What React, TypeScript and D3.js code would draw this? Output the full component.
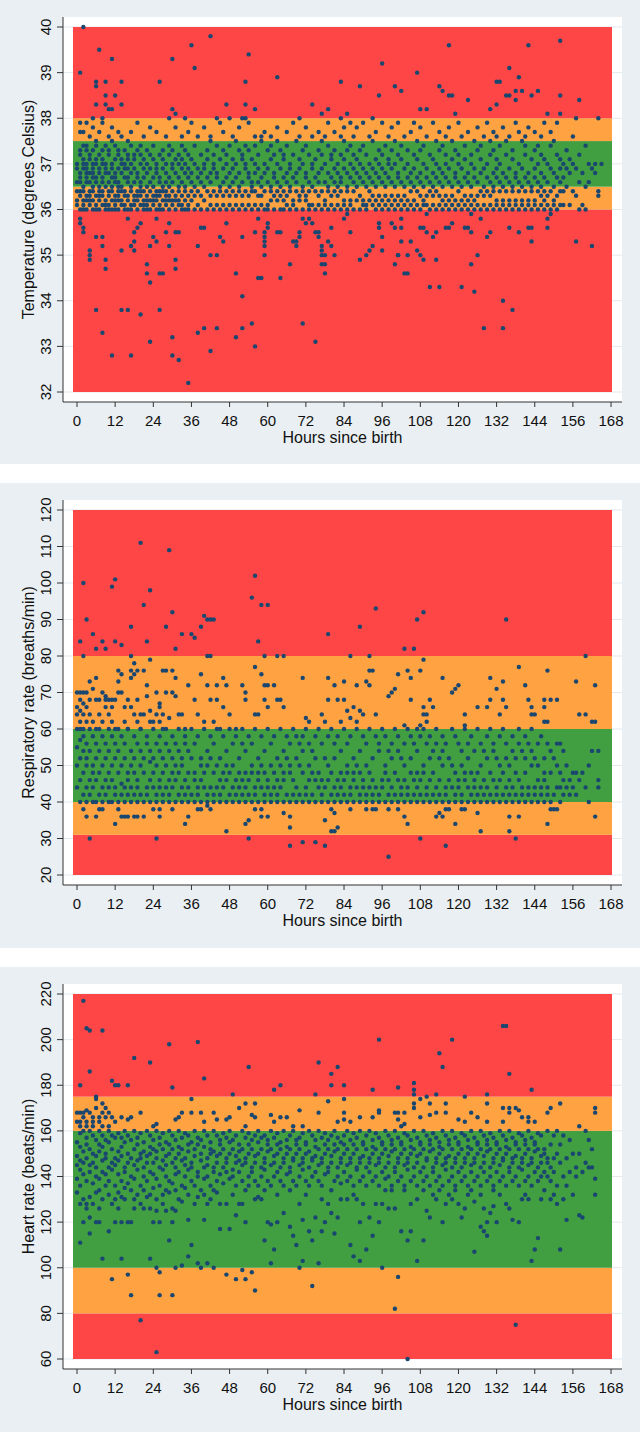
import React from "react";
import * as d3 from "d3";

// ---------------- data ----------------
const hourTicks = [0, 12, 24, 36, 48, 60, 72, 84, 96, 108, 120, 132, 144, 156, 168];
const hourExtent = [-1.26, 168.3];

const tempTicks = [32, 33, 34, 35, 36, 37, 38, 39, 40];
const tempBandBreaks = [32, 36, 36.5, 37.5, 38, 40];
const tempBandLevels = ["red", "orange", "green", "orange", "red"];

const rrTicks = [20, 30, 40, 50, 60, 70, 80, 90, 100, 110, 120];
const rrBandBreaks = [20, 31, 40, 60, 80, 120];
const rrBandLevels = ["red", "orange", "green", "orange", "red"];

const hrTicks = [60, 80, 100, 120, 140, 160, 180, 200, 220];
const hrBandBreaks = [60, 80, 100, 160, 175, 220];
const hrBandLevels = ["red", "orange", "green", "orange", "red"];

// readings per hour since birth (index = hour)
const tempReadings: number[][] = [
  [36.4, 36.1, 36.6, 36.9, 37.0, 36.2],
  [39.0, 35.8, 35.7, 36.0, 36.3, 36.4, 36.7, 36.8, 37.2, 37.3, 37.7, 37.9, 36.6],
  [40.0, 35.6, 35.5, 36.1, 36.2, 36.4, 36.5, 36.9, 37.1, 37.4, 37.0, 37.7, 36.0],
  [36.0, 36.3, 36.6, 36.7, 36.8, 37.0, 37.3, 37.4, 37.9, 36.2, 36.9],
  [35.1, 35.0, 34.9, 36.1, 36.2, 36.3, 36.6, 36.8, 37.1, 37.2, 37.6, 36.4],
  [36.0, 36.4, 36.5, 36.7, 36.9, 37.0, 37.3, 37.8, 38.0, 36.2, 36.8],
  [38.8, 38.7, 38.3, 35.4, 33.8, 36.1, 36.3, 36.6, 36.7, 37.0, 37.1, 37.4, 37.5, 36.0],
  [39.5, 36.0, 36.2, 36.4, 36.5, 36.8, 36.9, 37.2, 37.7, 36.3],
  [35.4, 35.2, 33.3, 36.1, 36.3, 36.6, 36.7, 37.0, 37.1, 37.3, 37.9, 36.4, 38.0],
  [38.8, 38.5, 38.3, 34.9, 34.7, 36.0, 36.2, 36.5, 36.9, 37.0, 37.4, 36.8, 36.1],
  [38.2, 36.1, 36.3, 36.4, 36.6, 36.8, 37.2, 37.3, 37.6, 36.0],
  [39.3, 38.2, 32.8, 36.0, 36.2, 36.5, 36.7, 36.9, 37.0, 37.5, 37.8, 36.4],
  // 12
  [38.5, 36.1, 36.3, 36.6, 36.7, 36.8, 37.1, 37.4, 36.0, 36.2],
  [36.0, 36.4, 36.5, 36.6, 36.9, 37.2, 37.3, 37.7, 36.2, 36.3],
  [38.8, 38.3, 33.8, 35.1, 36.1, 36.2, 36.5, 36.8, 37.0, 37.1, 37.6, 36.4],
  [36.0, 36.3, 36.4, 36.7, 36.9, 37.0, 37.3, 36.1],
  [33.8, 35.8, 36.2, 36.3, 36.6, 36.7, 37.1, 37.2, 37.5, 36.0, 36.9],
  [35.2, 32.8, 36.0, 36.1, 36.4, 36.5, 36.8, 37.0, 37.4, 37.7],
  [35.3, 35.1, 35.5, 36.1, 36.3, 36.6, 36.9, 37.1, 37.2, 36.2],
  [35.6, 36.0, 36.2, 36.4, 36.7, 36.8, 37.3, 37.9, 36.3],
  [35.7, 33.7, 36.1, 36.3, 36.5, 36.6, 37.0, 37.2, 37.4, 36.4],
  [36.0, 36.2, 36.4, 36.7, 36.9, 37.1, 37.6, 36.1],
  [34.8, 34.6, 36.1, 36.3, 36.5, 36.8, 37.0, 37.3, 36.0, 36.2],
  [34.4, 33.1, 35.2, 36.0, 36.2, 36.4, 36.6, 36.9, 37.2, 37.8],
  // 24
  [35.4, 36.1, 36.3, 36.5, 36.7, 37.1, 37.4, 36.2],
  [35.3, 35.8, 36.0, 36.2, 36.4, 36.8, 36.9, 37.0, 37.7, 36.3],
  [38.8, 33.8, 34.6, 36.1, 36.3, 36.6, 36.7, 37.2, 36.0, 36.4],
  [34.6, 36.0, 36.2, 36.5, 36.9, 37.1, 37.3, 36.4],
  [35.5, 36.1, 36.3, 36.4, 36.6, 36.8, 37.0, 37.6, 36.2],
  [38.0, 35.7, 35.2, 36.0, 36.2, 36.5, 36.7, 37.2, 37.4, 36.3],
  [39.3, 38.2, 33.2, 32.8, 36.1, 36.4, 36.6, 36.9, 37.0, 37.3, 36.2],
  [38.1, 35.5, 34.7, 34.9, 36.0, 36.2, 36.3, 36.8, 37.1, 37.8],
  [32.7, 35.5, 36.1, 36.4, 36.5, 36.7, 37.0, 37.2, 36.2],
  [36.0, 36.3, 36.6, 36.9, 37.1, 37.4, 37.6, 36.1],
  [36.2, 36.4, 36.5, 36.8, 37.0, 37.3, 36.0, 38.0],
  [32.2, 36.0, 36.1, 36.3, 36.7, 36.9, 37.2, 37.7],
  // 36
  [39.6, 36.2, 36.4, 36.6, 36.8, 37.1, 37.9],
  [39.1, 36.0, 36.3, 36.5, 37.0, 37.4],
  [33.3, 35.2, 36.1, 36.4, 36.7, 36.9, 37.6],
  [35.6, 36.0, 36.3, 36.6, 36.8, 37.2],
  [33.4, 35.6, 36.2, 36.5, 36.9, 37.0, 37.8],
  [36.0, 36.4, 36.7, 37.1, 37.3],
  [39.8, 32.9, 35.0, 36.1, 36.3, 36.6, 36.8, 37.5, 37.6],
  [36.0, 36.4, 36.9, 37.0, 37.2],
  [33.4, 35.0, 36.1, 36.3, 36.7, 36.8, 37.4, 38.0],
  [35.4, 36.0, 36.5, 37.1, 37.9, 36.4],
  [35.3, 36.1, 36.3, 36.6, 36.9, 37.3, 37.7],
  [38.3, 35.7, 36.0, 36.4, 36.7, 37.0, 37.2],
  // 48
  [36.1, 36.5, 36.8, 37.4, 38.0, 36.3],
  [36.0, 36.4, 36.6, 36.9, 37.1, 37.6],
  [33.2, 34.6, 36.1, 36.3, 36.7, 37.0, 37.5],
  [36.0, 36.5, 36.8, 37.3, 37.8, 36.4],
  [34.1, 33.4, 35.4, 36.1, 36.3, 36.6, 37.1, 37.2, 38.0],
  [38.8, 38.3, 36.0, 36.4, 36.9, 37.0, 37.4, 38.0],
  [39.4, 36.1, 36.3, 36.7, 36.8, 37.3, 37.9],
  [33.5, 36.0, 36.5, 36.6, 37.1, 36.4],
  [38.2, 33.0, 35.5, 36.1, 36.4, 36.8, 37.0, 37.4, 37.6],
  [35.8, 34.5, 36.0, 36.6, 36.9, 37.2, 36.3],
  [34.5, 36.1, 36.3, 36.5, 36.7, 37.5, 37.6],
  [35.5, 35.4, 35.3, 35.2, 35.0, 36.0, 36.8, 37.0, 37.7, 36.4],
  // 60
  [35.7, 35.6, 36.1, 36.6, 36.9, 37.3, 36.0],
  [36.2, 36.4, 36.5, 37.1, 37.4, 37.6],
  [36.0, 36.7, 36.8, 37.2, 36.3],
  [38.9, 35.5, 36.2, 36.4, 36.6, 37.0, 37.5, 37.8],
  [35.5, 34.5, 36.0, 36.3, 36.9, 37.3, 36.5],
  [36.2, 36.4, 36.7, 37.1, 37.2, 36.0],
  [36.1, 36.3, 36.6, 36.8, 37.4, 37.7],
  [34.8, 36.0, 36.5, 36.9, 37.0, 36.4],
  [35.3, 36.1, 36.7, 37.2, 37.9, 36.2],
  [35.3, 35.2, 36.0, 36.4, 36.6, 36.8, 37.5],
  [35.4, 35.5, 36.2, 36.3, 36.9, 37.1, 37.6, 38.0],
  [33.5, 35.8, 36.0, 36.5, 37.0, 37.3, 36.4],
  // 72
  [35.7, 36.2, 36.3, 36.7, 36.8, 37.4, 37.8],
  [35.8, 36.0, 36.4, 36.6, 37.2, 36.1],
  [38.3, 35.7, 36.1, 36.5, 36.9, 37.0, 37.6],
  [35.5, 33.1, 36.0, 36.7, 37.1, 36.4],
  [35.5, 35.4, 36.1, 36.3, 36.6, 36.8, 37.3, 37.7],
  [38.1, 35.2, 35.1, 35.0, 34.8, 36.0, 36.4, 36.9, 37.2, 37.5],
  [34.6, 35.0, 34.8, 36.2, 36.6, 37.0, 37.6, 36.1],
  [38.2, 35.3, 36.0, 36.4, 36.5, 36.8, 37.4, 37.9],
  [35.6, 35.2, 36.1, 36.7, 37.1, 37.2, 36.3],
  [35.0, 36.0, 36.4, 36.6, 36.9, 37.3, 37.7],
  [36.1, 36.5, 36.8, 37.0, 36.3],
  [38.8, 36.0, 36.4, 36.6, 36.7, 37.2, 37.6, 38.0],
  // 84
  [35.8, 36.1, 36.9, 37.1, 37.5, 37.8, 36.2],
  [38.1, 35.9, 36.0, 36.4, 36.5, 36.8, 37.3],
  [35.5, 36.1, 36.2, 36.7, 37.0, 37.4, 37.9],
  [36.0, 36.6, 36.9, 37.2, 37.6, 36.4],
  [36.2, 36.5, 36.8, 37.1, 37.8],
  [38.7, 34.9, 36.0, 36.3, 36.7, 37.0, 37.3],
  [36.1, 36.6, 36.9, 37.4, 37.9, 36.2],
  [35.0, 36.0, 36.5, 36.8, 37.2, 36.1],
  [35.1, 36.2, 36.4, 36.7, 37.0, 37.6],
  [35.2, 36.1, 36.3, 36.6, 36.9, 37.5, 38.0],
  [36.0, 36.5, 36.8, 37.1, 37.7, 36.2],
  [38.5, 35.7, 35.6, 36.1, 36.3, 36.7, 37.0, 37.3],
  // 96
  [39.2, 35.1, 35.4, 36.0, 36.2, 36.6, 36.9, 37.2, 37.9],
  [36.1, 36.5, 36.8, 37.4, 36.3],
  [36.0, 36.2, 36.7, 37.0, 37.1, 37.6],
  [35.7, 36.1, 36.3, 36.6, 36.9, 37.3, 37.8],
  [38.7, 35.6, 34.8, 36.0, 36.5, 37.0, 37.5, 36.2],
  [35.0, 35.0, 36.1, 36.3, 36.7, 36.8, 37.2, 37.9],
  [38.6, 35.3, 35.8, 35.6, 36.0, 36.2, 36.6, 37.1, 37.4],
  [34.6, 36.1, 36.5, 36.9, 37.6, 36.3],
  [34.6, 35.0, 36.0, 36.2, 36.7, 37.0, 37.3],
  [35.3, 36.1, 36.6, 36.8, 37.7, 36.4],
  [36.0, 36.2, 36.5, 36.9, 37.2, 37.9],
  [39.0, 35.1, 36.1, 36.4, 36.7, 37.1, 37.5],
  // 108
  [38.2, 35.0, 35.6, 36.0, 36.3, 36.6, 36.8, 37.3, 37.8],
  [34.9, 35.6, 36.2, 36.5, 37.0, 37.4, 36.1],
  [38.2, 35.9, 35.5, 36.1, 36.3, 36.7, 36.9, 37.6],
  [34.3, 36.0, 36.6, 37.2, 36.4],
  [35.4, 36.1, 36.3, 36.5, 36.8, 37.1, 37.9],
  [35.5, 34.9, 36.0, 36.7, 37.0, 37.5, 36.4],
  [38.7, 34.3, 36.1, 36.3, 36.6, 36.9, 37.3, 37.7],
  [38.6, 36.0, 36.5, 36.8, 37.4, 36.2],
  [35.6, 36.1, 36.3, 36.7, 37.0, 37.2, 37.6],
  [39.6, 38.5, 35.6, 36.0, 36.2, 36.6, 36.9, 37.8],
  [38.5, 35.7, 36.1, 36.5, 37.1, 37.5, 36.3],
  [38.1, 36.0, 36.2, 36.7, 36.8, 37.3],
  // 120
  [36.1, 36.6, 37.0, 37.2, 37.9, 36.4],
  [34.3, 36.0, 36.2, 36.5, 36.9, 37.6],
  [35.6, 36.1, 36.7, 37.1, 37.4, 36.3],
  [38.4, 35.6, 36.0, 36.2, 36.6, 36.8, 37.7],
  [35.5, 35.9, 34.8, 36.1, 36.3, 36.5, 37.0, 37.2],
  [34.2, 36.0, 36.7, 36.9, 37.5, 36.2],
  [35.0, 36.1, 36.3, 36.6, 37.3, 37.8],
  [35.8, 36.0, 36.8, 37.1, 37.4, 36.4],
  [33.4, 36.1, 36.3, 36.5, 36.9, 37.6],
  [35.4, 36.0, 36.7, 37.0, 37.9, 36.4],
  [38.2, 35.5, 36.1, 36.3, 36.6, 37.2, 37.5],
  [36.0, 36.4, 36.5, 36.8, 37.3, 37.7],
  // 132
  [38.3, 38.8, 36.1, 36.2, 36.7, 36.9, 37.1, 37.6],
  [38.8, 36.0, 36.6, 37.0, 37.4, 36.4],
  [34.0, 33.4, 36.1, 36.2, 36.5, 36.8, 37.8],
  [38.5, 36.0, 36.7, 37.2, 37.5, 36.4],
  [39.1, 38.5, 35.6, 36.1, 36.2, 36.6, 36.9, 37.6],
  [33.8, 36.0, 36.4, 36.5, 37.1, 37.3],
  [38.6, 38.4, 36.1, 36.7, 36.8, 37.9, 36.2],
  [38.9, 35.5, 36.0, 36.4, 36.6, 37.0, 37.7],
  [38.6, 36.2, 36.5, 36.9, 37.5, 36.1],
  [36.0, 36.4, 36.7, 37.2, 37.4, 37.6],
  [39.6, 35.6, 36.1, 36.2, 36.6, 36.8, 37.8],
  [38.5, 35.6, 35.3, 36.0, 36.5, 37.1, 36.4],
  // 144
  [36.2, 36.1, 36.7, 36.9, 37.3, 37.7],
  [38.6, 36.0, 36.4, 36.6, 37.0, 37.4],
  [36.1, 36.3, 36.5, 36.8, 37.2, 37.6],
  [36.0, 36.2, 36.7, 37.1, 37.9, 36.4],
  [38.1, 35.8, 35.6, 36.1, 36.3, 36.6, 37.0],
  [35.9, 36.0, 36.4, 36.9, 37.4, 37.7],
  [36.2, 36.5, 36.8, 37.5, 36.1],
  [36.0, 36.3, 36.7, 37.2, 37.9],
  [39.7, 38.5, 38.1, 36.1, 36.4, 36.6, 36.9, 37.1],
  [36.1, 36.4, 36.7, 37.0],
  [36.5, 36.9, 37.3],
  [36.1, 36.8, 37.1],
  // 156
  [36.4, 37.0, 37.6],
  [38.0, 35.3, 36.3, 36.9],
  [38.4, 36.0, 36.6, 37.2],
  [36.1, 36.8],
  [36.0, 36.5, 37.4],
  [37.0, 36.6],
  [35.2, 36.9],
  [37.0, 36.8],
  [38.0, 36.4, 36.3],
  [37.0],
];

const rrReadings: number[][] = [
  [60, 55, 50, 44, 66, 70, 64],
  [84, 60, 57, 52, 46, 40, 68, 70, 62, 65],
  [100, 80, 38, 58, 54, 48, 42, 70, 67, 64, 60],
  [90, 36, 56, 52, 50, 44, 40, 70, 66, 62],
  [30, 60, 54, 46, 42, 73, 68, 64],
  [86, 58, 50, 48, 44, 40, 71, 62],
  [82, 36, 56, 52, 46, 40, 74, 68, 60],
  [38, 60, 54, 48, 42, 68, 64],
  [84, 38, 58, 50, 44, 40, 70, 62],
  [82, 56, 52, 46, 42, 69, 66, 68],
  [60, 54, 48, 44, 40, 68, 64],
  [99, 58, 50, 46, 40, 66, 62, 68],
  // 12
  [101, 84, 34, 56, 52, 44, 42, 68, 60],
  [38, 60, 54, 48, 40, 73, 76, 70],
  [83, 36, 58, 50, 45, 42, 75, 70],
  [36, 56, 52, 44, 40, 66, 62],
  [36, 60, 48, 46, 42, 68, 60],
  [88, 54, 50, 44, 40, 80, 76, 66, 74],
  [36, 58, 52, 48, 42, 78, 75, 64],
  [36, 56, 46, 44, 40, 76, 68, 62],
  [111, 60, 54, 50, 42, 64, 60],
  [94, 36, 52, 48, 40, 76, 64],
  [84, 58, 56, 44, 42, 72, 69],
  [98, 54, 51, 46, 40, 79, 65, 62],
  // 24
  [38, 60, 52, 48, 44, 62],
  [30, 56, 50, 42, 40, 70, 64],
  [38, 36, 58, 54, 46, 44, 67, 66, 62],
  [52, 48, 42, 40, 76, 64, 60],
  [88, 60, 56, 50, 44, 70, 76],
  [109, 54, 46, 42, 40, 63],
  [92, 38, 58, 52, 48, 44, 70, 76],
  [82, 56, 50, 46, 40, 74, 69],
  [60, 54, 48, 42, 64],
  [86, 52, 50, 44, 40, 64],
  [34, 58, 56, 46, 42, 60],
  [36, 54, 48, 44, 40, 72],
  // 36
  [86, 60, 52, 42],
  [85, 56, 48, 46, 40, 68],
  [38, 58, 44, 42, 64],
  [88, 38, 52, 50, 46, 40, 75],
  [91, 60, 48, 44, 62],
  [90, 80, 39, 54, 50, 42, 40, 72],
  [90, 80, 38, 58, 52, 44, 68],
  [90, 56, 48, 42, 40, 62],
  [60, 50, 44, 72, 68],
  [52, 46, 42, 40, 60],
  [58, 48, 44, 66, 74],
  [32, 54, 50, 46, 40, 72],
  // 48
  [60, 48, 42, 64],
  [56, 50, 44, 40],
  [58, 46, 42, 60],
  [52, 48, 44, 40],
  [60, 56, 46, 42, 72],
  [34, 54, 48, 44, 40, 70, 68],
  [35, 30, 58, 46, 42],
  [96, 56, 50, 48, 40],
  [102, 77, 38, 60, 44, 42, 64],
  [84, 52, 48, 46, 40, 64],
  [94, 36, 38, 58, 50, 44, 75],
  [80, 54, 48, 42, 40, 72, 68],
  // 60
  [94, 36, 60, 46, 44, 72, 66],
  [56, 50, 42, 40],
  [58, 48, 44, 72],
  [80, 52, 46, 42, 40, 68],
  [60, 50, 44, 68],
  [80, 37, 54, 48, 46, 40, 66],
  [58, 52, 42],
  [36, 33, 28, 56, 50, 48, 40],
  [60, 46, 42],
  [52, 44, 40, 58],
  [56, 50, 42],
  [29, 58, 54, 48, 40, 74],
  // 72
  [60, 44, 42, 63],
  [56, 50, 46, 40, 62],
  [54, 48, 42],
  [29, 58, 52, 46, 40],
  [60, 48, 44],
  [56, 46, 42, 40, 64],
  [28, 35, 52, 44, 62],
  [86, 58, 50, 46, 40, 74, 68],
  [32, 38, 60, 48, 42],
  [32, 37, 56, 52, 44, 40, 72],
  [33, 58, 46, 42, 68],
  [54, 48, 44, 40, 62],
  // 84
  [60, 46, 42, 73, 68],
  [56, 50, 48, 40, 65],
  [80, 38, 58, 44, 42, 63],
  [52, 48, 46, 40, 66],
  [60, 50, 44, 62, 72],
  [88, 54, 48, 42, 40, 65],
  [58, 46, 44, 64],
  [38, 56, 50, 42, 40, 73],
  [80, 60, 48, 44, 72, 76],
  [38, 52, 46, 42, 40, 76],
  [93, 38, 58, 44, 64],
  [56, 54, 42, 40],
  // 96
  [60, 46, 44],
  [58, 50, 48, 40],
  [25, 38, 54, 46, 42, 69],
  [56, 52, 44, 40, 70],
  [60, 48, 42, 71],
  [38, 58, 54, 46, 40, 75],
  [52, 44, 42],
  [82, 36, 56, 50, 46, 40, 61],
  [34, 60, 44, 42, 76],
  [58, 52, 48, 40, 74, 68],
  [82, 56, 46, 42],
  [90, 54, 48, 44, 40, 60],
  // 108
  [30, 58, 46, 42, 76, 61],
  [92, 79, 60, 50, 48, 40, 64, 66],
  [56, 44, 42, 62, 64],
  [58, 52, 46, 40, 68],
  [54, 48, 42, 66],
  [36, 60, 56, 44, 40],
  [37, 52, 46, 42],
  [36, 58, 54, 50, 40, 74],
  [38, 28, 56, 44, 42],
  [38, 52, 46, 40],
  [60, 50, 44, 70],
  [34, 58, 48, 42, 40, 71],
  // 120
  [56, 46, 44, 72],
  [38, 54, 50, 42, 40],
  [38, 60, 48, 46, 64, 61],
  [56, 52, 44, 40],
  [58, 48, 42],
  [54, 46, 44, 40],
  [37, 60, 48, 42, 66],
  [32, 56, 50, 44, 40],
  [54, 46, 42],
  [58, 52, 44, 40, 66],
  [60, 48, 42, 74, 68],
  [56, 54, 46, 40],
  // 132
  [52, 44, 42, 71],
  [58, 50, 46, 40, 64],
  [60, 48, 42, 73, 68],
  [90, 56, 52, 44, 40, 66],
  [36, 32, 50, 46, 42],
  [58, 54, 44, 40],
  [30, 52, 48, 42],
  [77, 36, 60, 56, 46, 40],
  [54, 44, 42],
  [58, 52, 48, 40, 72],
  [56, 44, 42, 68],
  [60, 54, 50, 40, 66, 64],
  // 144
  [52, 44, 42, 64],
  [56, 50, 46, 40],
  [58, 44, 42],
  [52, 48, 46, 40, 68, 66, 62],
  [34, 56, 44, 42, 76, 62],
  [38, 54, 48, 40, 68],
  [38, 52, 42],
  [38, 56, 50, 44, 68],
  [56, 48, 44, 40],
  [54, 46, 42],
  [50, 44],
  [46, 42],
  // 156
  [48, 44],
  [73, 48, 42],
  [64, 46],
  [48],
  [80, 64, 44],
  [50, 40],
  [62, 54],
  [72, 62, 36],
  [54, 46, 44],
];

const hrReadings: number[][] = [
  [155, 149, 145, 139, 133, 168, 164],
  [111, 180, 159, 153, 147, 143, 136, 128, 168, 162, 164],
  [217, 120, 160, 151, 146, 141, 130, 168, 166],
  [205, 128, 157, 154, 148, 138, 126, 169, 164, 162],
  [204, 186, 115, 160, 152, 145, 142, 131, 122, 168],
  [128, 158, 150, 146, 137, 164, 166, 162],
  [120, 156, 149, 144, 140, 133, 175, 174, 170],
  [120, 160, 154, 151, 139, 134, 126, 166, 164],
  [204, 104, 158, 153, 147, 142, 130, 172, 168, 162],
  [156, 150, 148, 141, 136, 170, 166],
  [116, 160, 155, 144, 138, 132, 168, 162],
  [182, 95, 158, 152, 146, 143, 128, 166],
  // 12
  [180, 120, 157, 148, 145, 136, 130, 164],
  [180, 126, 159, 151, 147, 141, 133],
  [104, 120, 157, 153, 149, 138, 131, 166],
  [130, 160, 155, 144, 142, 135],
  [180, 97, 120, 158, 150, 146, 137, 165],
  [88, 120, 156, 148, 140, 134, 166],
  [192, 126, 160, 152, 145, 139, 130],
  [157, 154, 147, 143, 132],
  [77, 159, 150, 148, 136, 128, 168],
  [155, 151, 144, 140, 134, 126],
  [160, 149, 146, 138, 131],
  [190, 104, 126, 158, 153, 150, 142, 132],
  // 24
  [120, 156, 152, 146, 141, 135, 162],
  [63, 100, 125, 160, 151, 148, 139, 130, 163],
  [98, 88, 157, 154, 144, 136, 120],
  [132, 159, 152, 147, 143, 128],
  [125, 155, 149, 145, 140, 134],
  [198, 112, 160, 154, 150, 138, 133],
  [179, 88, 120, 158, 152, 146, 137, 126],
  [100, 125, 156, 148, 144, 141, 134, 165],
  [160, 153, 150, 142, 130, 166],
  [101, 157, 152, 147, 136, 129, 168],
  [159, 148, 145, 140, 135],
  [105, 121, 158, 154, 151, 143, 132],
  // 36
  [110, 155, 146, 144, 138, 174, 168],
  [128, 160, 152, 149, 136],
  [199, 102, 157, 154, 142, 140, 131],
  [100, 156, 150, 147, 134, 168],
  [183, 121, 160, 153, 144, 139, 132, 164],
  [102, 158, 148, 145, 140, 128],
  [155, 152, 150, 136, 130],
  [100, 160, 151, 144, 142, 134, 168],
  [158, 149, 146, 138, 133, 165],
  [117, 156, 154, 150, 141, 128],
  [159, 152, 144, 137],
  [97, 128, 157, 148, 146, 142, 165],
  // 48
  [117, 160, 155, 150, 139, 166],
  [176, 156, 152, 143, 140, 132],
  [95, 123, 158, 149, 146, 136],
  [170, 154, 151, 147, 142, 128],
  [99, 128, 160, 152, 145, 138],
  [95, 120, 172, 162, 157, 148, 146, 134],
  [188, 159, 154, 150, 140, 136],
  [98, 156, 152, 144, 142, 167],
  [90, 130, 158, 149, 146, 138, 172, 166],
  [160, 155, 150, 136, 131],
  [130, 157, 152, 144, 140],
  [112, 158, 148, 146, 143, 134],
  // 60
  [120, 156, 154, 151, 138],
  [102, 119, 160, 152, 145, 136, 167],
  [178, 108, 157, 149, 146, 140, 164],
  [120, 159, 154, 150, 142, 132],
  [180, 155, 152, 144, 138, 166],
  [124, 160, 148, 146, 136],
  [156, 153, 150, 141, 166],
  [118, 158, 152, 144, 142, 134],
  [114, 160, 148, 147, 138, 162],
  [110, 156, 154, 150, 136],
  [100, 128, 157, 152, 145, 140, 169],
  [103, 121, 159, 148, 146, 143, 162],
  // 72
  [155, 154, 150, 138, 132],
  [116, 160, 151, 144, 136],
  [112, 92, 158, 148, 147, 140],
  [122, 156, 153, 149, 142, 176],
  [190, 102, 160, 152, 145, 138, 168],
  [116, 157, 148, 146, 136, 130],
  [120, 159, 154, 150, 141],
  [173, 128, 156, 152, 144, 142],
  [185, 180, 124, 158, 149, 146, 134],
  [115, 160, 154, 151, 138],
  [188, 122, 157, 152, 144, 140, 164],
  [155, 148, 146, 137, 130],
  // 84
  [180, 158, 154, 150, 142, 168, 174, 165],
  [130, 160, 152, 145, 138],
  [110, 156, 148, 146, 140, 164],
  [105, 159, 154, 150, 136, 132],
  [130, 157, 152, 144, 143],
  [103, 120, 160, 148, 146, 138, 166],
  [155, 154, 149, 140, 128],
  [108, 158, 152, 144, 136],
  [122, 160, 148, 146, 142],
  [178, 114, 156, 153, 150, 138, 166],
  [128, 159, 152, 145, 140],
  [200, 120, 157, 148, 146, 136, 169, 168],
  // 96
  [100, 128, 155, 154, 150, 142],
  [160, 152, 144, 139, 134],
  [126, 158, 149, 146, 140],
  [134, 156, 154, 151, 136],
  [82, 126, 160, 152, 144, 142, 168],
  [179, 96, 157, 148, 146, 138, 168, 165],
  [116, 155, 154, 150, 140, 162],
  [159, 152, 145, 136, 134, 163, 168],
  [60, 112, 158, 148, 146, 143],
  [116, 128, 156, 153, 150, 138],
  [181, 178, 160, 152, 144, 140, 176, 172, 170],
  [103, 157, 149, 146, 136, 130],
  // 108
  [174, 155, 154, 150, 142, 166],
  [112, 160, 152, 144, 138, 134],
  [175, 125, 158, 148, 147, 140],
  [122, 156, 154, 151, 136, 167, 172],
  [159, 152, 144, 142, 132],
  [176, 130, 157, 148, 146, 138, 168],
  [194, 155, 153, 150, 140, 134],
  [188, 120, 160, 152, 145, 136],
  [128, 158, 148, 146, 143, 172, 168],
  [156, 154, 149, 138, 132],
  [200, 130, 160, 152, 144, 140],
  [157, 148, 146, 136, 134],
  // 120
  [128, 155, 154, 150, 142, 165],
  [122, 159, 152, 144, 138],
  [175, 126, 158, 148, 146, 140, 164],
  [156, 153, 150, 136, 132],
  [160, 152, 145, 142, 134, 168],
  [107, 129, 157, 148, 146, 138],
  [155, 154, 150, 140, 166],
  [118, 160, 152, 144, 136, 132],
  [116, 126, 158, 149, 146, 142],
  [176, 114, 120, 156, 154, 151, 138, 172, 164],
  [124, 159, 152, 144, 140],
  [127, 157, 148, 146, 136, 134],
  // 132
  [120, 155, 154, 150, 142],
  [160, 152, 145, 138, 132],
  [206, 158, 148, 147, 140, 170, 164],
  [206, 156, 153, 150, 136, 128],
  [185, 126, 160, 152, 144, 142, 168, 170],
  [121, 157, 148, 146, 138],
  [75, 155, 154, 149, 140, 170],
  [120, 159, 152, 144, 136, 169],
  [130, 158, 148, 146, 143, 166],
  [156, 154, 150, 138, 132],
  [130, 160, 152, 145, 140, 164, 166],
  [178, 103, 157, 148, 146, 136],
  // 144
  [108, 155, 154, 151, 142, 164],
  [113, 159, 152, 144, 138],
  [130, 158, 149, 146, 140],
  [152, 150, 142, 134],
  [160, 148, 146, 140, 168],
  [154, 144, 138, 130, 170],
  [158, 148, 142, 132],
  [160, 150, 136, 128],
  [108, 154, 146, 172],
  [158, 140, 130],
  [121, 148, 136],
  [156, 142],
  // 156
  [150, 132],
  [140, 144],
  [123, 162, 150],
  [122, 142],
  [160, 146],
  [156, 144],
  [152, 144],
  [139, 132, 170, 168],
];

// ---------------- styles ----------------
const LEVEL_COLORS: Record<string, string> = {
  red: "#ff4646",
  orange: "#ffa242",
  green: "#419e41",
};
const PAGE_BG = "#e9eff2";
const DOT = "#1a476f";
const FONT = "'Liberation Sans', Arial, Helvetica, sans-serif";

type PanelProps = {
  top: number;
  height: number;
  ticks: number[];
  breaks: number[];
  levels: string[];
  readings: number[][];
  title: string;
};

function Panel({ top, height, ticks, breaks, levels, readings, title }: PanelProps) {
  const x = d3.scaleLinear().domain(hourExtent).range([73, 612]);
  const y = d3
    .scaleLinear()
    .domain([breaks[0], breaks[breaks.length - 1]])
    .range([top + 392, top + 27]);

  const points = readings.flatMap((vals, h) => vals.map((v) => [h, v] as [number, number]));
  const axisY = top + 402;
  const plotTop = top + 17;
  const left = 63;
  const right = 622;

  return (
    <g>
      <rect x={0} y={top} width={640} height={height} fill={PAGE_BG} />
      <rect x={left} y={plotTop} width={right - left} height={axisY - plotTop} fill="#ffffff" />
      {ticks.map((t) => (
        <line key={"g" + t} x1={left} x2={right} y1={y(t)} y2={y(t)} stroke="#e3e9ed" strokeWidth={1} />
      ))}
      {levels.map((lv, i) => (
        <rect
          key={"b" + i}
          x={x(hourExtent[0])}
          width={x(hourExtent[1]) - x(hourExtent[0])}
          y={y(breaks[i + 1])}
          height={y(breaks[i]) - y(breaks[i + 1])}
          fill={LEVEL_COLORS[lv]}
        />
      ))}
      {points.map(([h, v], i) => (
        <circle key={"p" + i} cx={x(h)} cy={y(v)} r={2.2} fill={DOT} />
      ))}
      {/* y axis */}
      <line x1={left} x2={left} y1={plotTop} y2={axisY} stroke="#333" strokeWidth={1} />
      {ticks.map((t) => (
        <g key={"yt" + t}>
          <line x1={left - 6} x2={left} y1={y(t)} y2={y(t)} stroke="#333" strokeWidth={1} />
          <text
            transform={`translate(51,${y(t)}) rotate(-90)`}
            textAnchor="middle"
            fontSize={15}
            fontFamily={FONT}
            fill="#111"
          >
            {t}
          </text>
        </g>
      ))}
      <text
        transform={`translate(34,${(y(breaks[0]) + y(breaks[breaks.length - 1])) / 2}) rotate(-90)`}
        textAnchor="middle"
        fontSize={16}
        fontFamily={FONT}
        fill="#111"
      >
        {title}
      </text>
      {/* x axis */}
      <line x1={left} x2={right} y1={axisY} y2={axisY} stroke="#333" strokeWidth={1} />
      {hourTicks.map((t) => (
        <g key={"xt" + t}>
          <line x1={x(t)} x2={x(t)} y1={axisY} y2={axisY + 5} stroke="#333" strokeWidth={1} />
          <text x={x(t)} y={axisY + 24} textAnchor="middle" fontSize={15} fontFamily={FONT} fill="#111">
            {t}
          </text>
        </g>
      ))}
      <text
        x={(x(hourExtent[0]) + x(hourExtent[1])) / 2}
        y={axisY + 41}
        textAnchor="middle"
        fontSize={16}
        fontFamily={FONT}
        fill="#111"
      >
        Hours since birth
      </text>
    </g>
  );
}

export default function App() {
  return (
    <svg
      width={640}
      height={1432}
      viewBox="0 0 640 1432"
      style={{ position: "absolute", left: 0, top: 0, display: "block" }}
    >
      <rect x={0} y={0} width={640} height={1432} fill="#ffffff" />
      <Panel
        top={0}
        height={464}
        ticks={tempTicks}
        breaks={tempBandBreaks}
        levels={tempBandLevels}
        readings={tempReadings}
        title="Temperature (degrees Celsius)"
      />
      <Panel
        top={483}
        height={465}
        ticks={rrTicks}
        breaks={rrBandBreaks}
        levels={rrBandLevels}
        readings={rrReadings}
        title="Respiratory rate (breaths/min)"
      />
      <Panel
        top={967}
        height={465}
        ticks={hrTicks}
        breaks={hrBandBreaks}
        levels={hrBandLevels}
        readings={hrReadings}
        title="Heart rate (beats/min)"
      />
    </svg>
  );
}
